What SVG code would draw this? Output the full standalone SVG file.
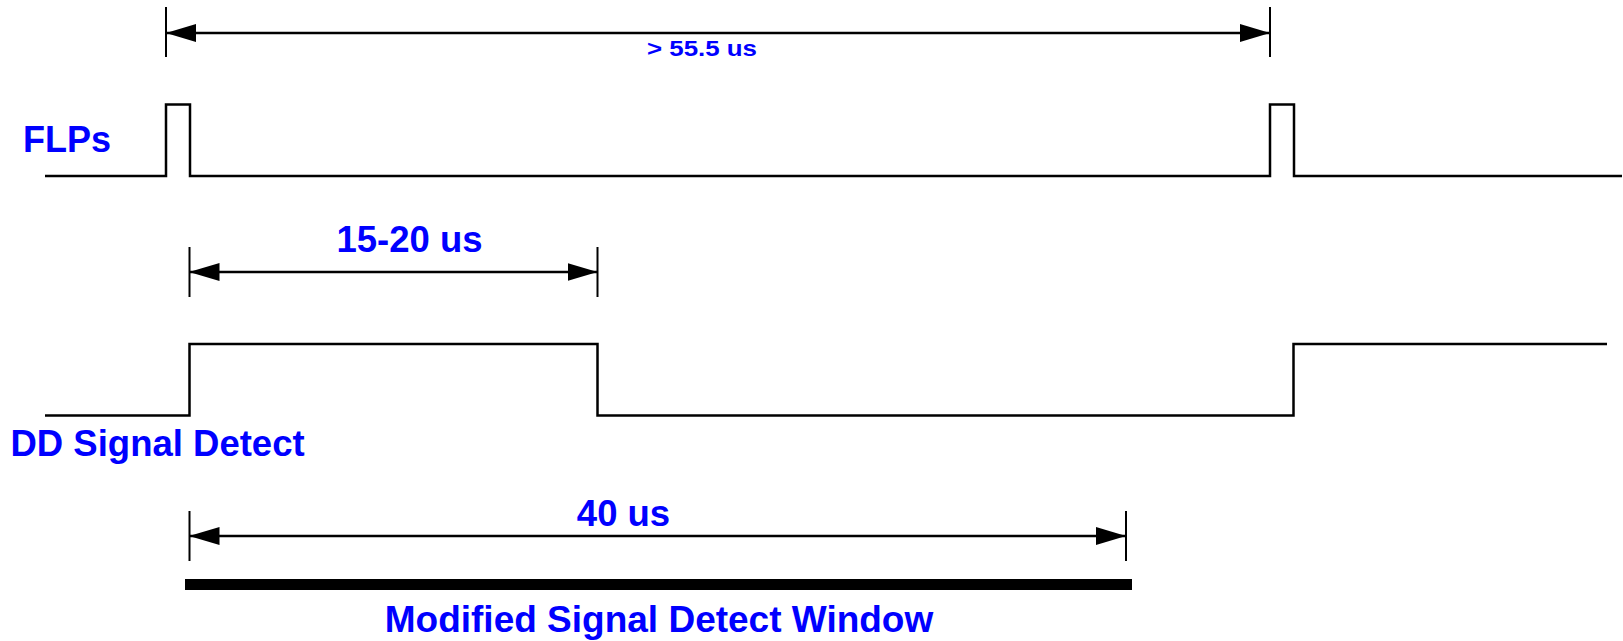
<svg xmlns="http://www.w3.org/2000/svg" width="1623" height="641" viewBox="0 0 1623 641">
<style>
.sig{fill:none;stroke:#000;stroke-width:2.5;stroke-linejoin:miter}
.tick{stroke:#000;stroke-width:2}
.dim{stroke:#000;stroke-width:2.5}
.lbl{font-family:"Liberation Sans",Arial,sans-serif;font-weight:bold;fill:#0000ff}
</style>
<defs>
<marker id="ah" markerUnits="userSpaceOnUse" markerWidth="30" markerHeight="18" refX="30" refY="9" orient="auto-start-reverse" viewBox="0 0 30 18">
<path d="M0,0 L30,9 L0,18 z" fill="#000"/>
</marker>
</defs>
<rect width="1623" height="641" fill="#fff"/>
<g id="flps">
<path class="sig" d="M45,176 H166 V104.5 H190 V176 H1270 V104.5 H1294 V176 H1622"/>
<text class="lbl" x="23" y="152" font-size="36">FLPs</text>
</g>
<g id="dd-signal-detect">
<path class="sig" d="M45,415.5 H189.5 V344 H597.5 V415.5 H1293.5 V344 H1607"/>
<text class="lbl" x="10.5" y="455.5" font-size="36.5">DD Signal Detect</text>
</g>
<g id="window">
<rect x="185" y="579" width="947" height="11" fill="#000"/>
<text class="lbl" x="659" y="631.5" font-size="37" text-anchor="middle">Modified Signal Detect Window</text>
</g>
<g id="connectors">
<line class="tick" x1="166" y1="7" x2="166" y2="57"/>
<line class="tick" x1="1270" y1="7" x2="1270" y2="57"/>
<line class="dim" x1="166" y1="33" x2="1270" y2="33" marker-start="url(#ah)" marker-end="url(#ah)"/>
<line class="tick" x1="189.5" y1="247" x2="189.5" y2="297"/>
<line class="tick" x1="597.5" y1="247" x2="597.5" y2="297"/>
<line class="dim" x1="189.5" y1="272" x2="597.5" y2="272" marker-start="url(#ah)" marker-end="url(#ah)"/>
<line class="tick" x1="189.5" y1="511" x2="189.5" y2="561"/>
<line class="tick" x1="1126" y1="511" x2="1126" y2="561"/>
<line class="dim" x1="189.5" y1="536" x2="1126" y2="536" marker-start="url(#ah)" marker-end="url(#ah)"/>
</g>
<g id="labels">
<text class="lbl" x="702" y="55.7" font-size="22" text-anchor="middle" textLength="110" lengthAdjust="spacingAndGlyphs">&gt; 55.5 us</text>
<text class="lbl" x="409.5" y="251.5" font-size="36.5" text-anchor="middle">15-20 us</text>
<text class="lbl" x="623.5" y="526" font-size="36.5" text-anchor="middle">40 us</text>
</g>
</svg>
